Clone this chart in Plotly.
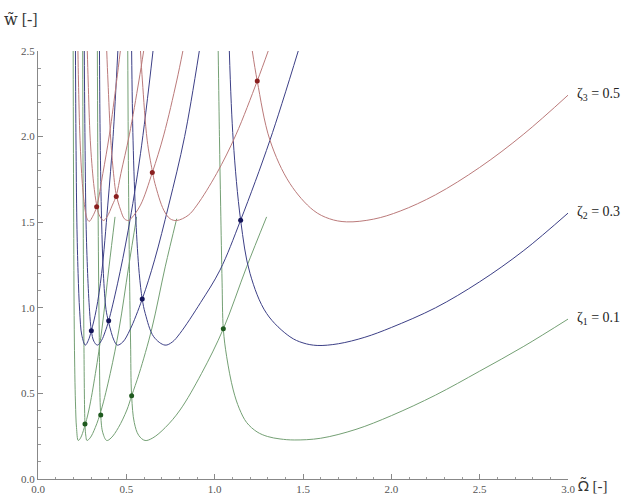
import plotly.graph_objects as go

# ---------------- data ----------------
# zeta_1 = 0.1 (green) : five resonance curves
G1_X = [1.020, 1.027, 1.034, 1.042, 1.049, 1.068, 1.105, 1.14, 1.181, 1.24, 1.30, 1.37, 1.45, 1.6, 1.8, 2.0, 2.25, 2.5, 2.75, 3.0]
G1_Y = [2.5, 2.0, 1.59, 1.15, 0.877, 0.714, 0.52, 0.41, 0.33, 0.275, 0.248, 0.234, 0.228, 0.238, 0.29, 0.37, 0.49, 0.63, 0.775, 0.934]
G2_X = [0.508, 0.512, 0.518, 0.524, 0.530, 0.545, 0.57, 0.606, 0.65, 0.72, 0.804, 0.926, 1.049, 1.181, 1.294]
G2_Y = [2.5, 1.8, 1.2, 0.8, 0.486, 0.33, 0.255, 0.225, 0.24, 0.3, 0.403, 0.617, 0.877, 1.239, 1.531]
G3_X = [0.336, 0.340, 0.346, 0.355, 0.367, 0.389, 0.414, 0.455, 0.503, 0.530, 0.573, 0.644, 0.72, 0.785]
G3_Y = [2.5, 1.6, 0.9, 0.374, 0.27, 0.225, 0.24, 0.3, 0.403, 0.486, 0.617, 0.877, 1.239, 1.52]
G4_X = [0.253, 0.256, 0.260, 0.266, 0.271, 0.277, 0.295, 0.324, 0.358, 0.409, 0.459, 0.513, 0.558]
G4_Y = [2.5, 1.5, 0.8, 0.321, 0.25, 0.225, 0.24, 0.3, 0.403, 0.617, 0.877, 1.239, 1.531]
G5_X = [0.199, 0.202, 0.206, 0.212, 0.218, 0.228, 0.241, 0.262, 0.288, 0.325, 0.362, 0.402, 0.436]
G5_Y = [2.5, 1.5, 0.8, 0.45, 0.3, 0.225, 0.24, 0.3, 0.403, 0.617, 0.877, 1.239, 1.531]

# zeta_2 = 0.3 (blue)
B1_X = [1.083, 1.105, 1.147, 1.2, 1.294, 1.426, 1.50, 1.58, 1.7, 1.85, 2.0, 2.25, 2.5, 2.75, 3.0]
B1_Y = [2.5, 1.979, 1.512, 1.201, 0.967, 0.831, 0.795, 0.78, 0.79, 0.828, 0.885, 1.0, 1.152, 1.335, 1.553]
B2_X = [0.530, 0.538, 0.554, 0.573, 0.590, 0.607, 0.655, 0.719, 0.76, 0.804, 0.92, 1.03, 1.147, 1.313, 1.473]
B2_Y = [2.5, 1.979, 1.512, 1.201, 1.051, 0.967, 0.831, 0.782, 0.80, 0.851, 1.03, 1.22, 1.512, 1.979, 2.5]
B3_X = [0.348, 0.352, 0.36, 0.37, 0.385, 0.398, 0.415, 0.43, 0.449, 0.48, 0.52, 0.59, 0.66, 0.74, 0.83, 0.913]
B3_Y = [2.5, 1.979, 1.512, 1.201, 0.99, 0.924, 0.855, 0.81, 0.782, 0.80, 0.87, 1.051, 1.28, 1.6, 2.0, 2.5]
B4_X = [0.262, 0.266, 0.272, 0.281, 0.292, 0.302, 0.316, 0.336, 0.36, 0.38, 0.4, 0.45, 0.51, 0.58, 0.651]
B4_Y = [2.5, 1.98, 1.5, 1.2, 0.98, 0.866, 0.805, 0.782, 0.81, 0.86, 0.924, 1.14, 1.45, 1.9, 2.5]
B5_X = [0.212, 0.215, 0.22, 0.227, 0.236, 0.248, 0.268, 0.285, 0.302, 0.33, 0.36, 0.395, 0.425, 0.452]
B5_Y = [2.5, 1.98, 1.5, 1.2, 0.98, 0.84, 0.782, 0.81, 0.866, 0.99, 1.2, 1.6, 2.0, 2.5]

# zeta_3 = 0.5 (red)
R1_X = [1.213, 1.241, 1.313, 1.426, 1.558, 1.65, 1.747, 1.9, 2.05, 2.25, 2.5, 2.75, 3.0]
R1_Y = [2.5, 2.325, 1.979, 1.726, 1.570, 1.52, 1.502, 1.518, 1.565, 1.66, 1.82, 2.015, 2.242]
R2_X = [0.58, 0.591, 0.618, 0.647, 0.662, 0.712, 0.748, 0.785, 0.85, 0.9, 1.011, 1.12, 1.241, 1.303]
R2_Y = [2.5, 2.325, 1.979, 1.80, 1.726, 1.57, 1.52, 1.51, 1.54, 1.60, 1.784, 2.01, 2.325, 2.5]
R3_X = [0.389, 0.396, 0.412, 0.430, 0.443, 0.468, 0.489, 0.511, 0.53, 0.58, 0.647, 0.712, 0.785, 0.82]
R3_Y = [2.5, 2.325, 1.979, 1.76, 1.66, 1.57, 1.52, 1.51, 1.525, 1.60, 1.79, 2.01, 2.325, 2.5]
R4_X = [0.279, 0.284, 0.296, 0.315, 0.332, 0.345, 0.37, 0.39, 0.421, 0.443, 0.469, 0.517, 0.571, 0.598]
R4_Y = [2.5, 2.325, 1.979, 1.726, 1.60, 1.545, 1.51, 1.53, 1.60, 1.655, 1.784, 2.01, 2.325, 2.5]
R5_X = [0.226, 0.229, 0.238, 0.251, 0.267, 0.278, 0.29, 0.31, 0.332, 0.367, 0.404, 0.445, 0.466]
R5_Y = [2.5, 2.325, 1.979, 1.726, 1.57, 1.52, 1.505, 1.535, 1.59, 1.784, 2.01, 2.325, 2.5]

# intersection points (dots)
GREEN_DOT_X = [0.266, 0.355, 0.530, 1.049]
GREEN_DOT_Y = [0.321, 0.374, 0.486, 0.877]
BLUE_DOT_X = [0.302, 0.400, 0.590, 1.147]
BLUE_DOT_Y = [0.866, 0.924, 1.051, 1.512]
RED_DOT_X = [0.332, 0.443, 0.647, 1.241]
RED_DOT_Y = [1.590, 1.650, 1.790, 2.325]

X_TICKS = [0.0, 0.5, 1.0, 1.5, 2.0, 2.5, 3.0]
Y_TICKS = [0.0, 0.5, 1.0, 1.5, 2.0, 2.5]
LABELS = ["ζ<sub>1</sub> = 0.1", "ζ<sub>2</sub> = 0.3", "ζ<sub>3</sub> = 0.5"]

# ---------------- figure ----------------
GREEN_LINE = "#74a074"
BLUE_LINE = "#3c3f86"
RED_LINE = "#bb7a7a"
GREEN_DOT = "#1f5a1f"
BLUE_DOT = "#15155a"
RED_DOT = "#8a1f1f"

fig = go.Figure()

groups = [
    (GREEN_LINE, [(G1_X, G1_Y), (G2_X, G2_Y), (G3_X, G3_Y), (G4_X, G4_Y), (G5_X, G5_Y)]),
    (BLUE_LINE, [(B1_X, B1_Y), (B2_X, B2_Y), (B3_X, B3_Y), (B4_X, B4_Y), (B5_X, B5_Y)]),
    (RED_LINE, [(R1_X, R1_Y), (R2_X, R2_Y), (R3_X, R3_Y), (R4_X, R4_Y), (R5_X, R5_Y)]),
]
for color, curves in groups:
    for xs, ys in curves:
        fig.add_trace(go.Scatter(
            x=xs, y=ys, mode="lines",
            line=dict(color=color, width=1, shape="spline", smoothing=1.0),
            hoverinfo="skip", showlegend=False))

for color, xs, ys in [(GREEN_DOT, GREEN_DOT_X, GREEN_DOT_Y),
                      (BLUE_DOT, BLUE_DOT_X, BLUE_DOT_Y),
                      (RED_DOT, RED_DOT_X, RED_DOT_Y)]:
    fig.add_trace(go.Scatter(
        x=xs, y=ys, mode="markers",
        marker=dict(color=color, size=5),
        showlegend=False, cliponaxis=False))

serif = "Liberation Serif, Times New Roman, serif"

# curve labels at the right ends of the main curves
for text, ys in zip(LABELS, [G1_Y, B1_Y, R1_Y]):
    fig.add_annotation(x=1, y=ys[-1], xref="paper", yref="y", text=text,
                       showarrow=False, xanchor="left", yanchor="middle",
                       xshift=7, yshift=1, font=dict(family=serif, size=14, color="#222"))

# axis titles
fig.add_annotation(x=0, y=1, xref="paper", yref="paper",
                   text="<span style='font-family:DejaVu Serif'>w\u0303</span> [-]",
                   showarrow=False, xanchor="right", yanchor="middle",
                   xshift=2, yshift=32, font=dict(family=serif, size=16, color="#333"))
fig.add_annotation(x=1, y=0, xref="paper", yref="paper",
                   text="<span style='font-family:Noto Sans'>Ω\u0303</span> [-]",
                   showarrow=False, xanchor="left", yanchor="middle",
                   xshift=8, yshift=-6, font=dict(family=serif, size=15, color="#333"))

axis_common = dict(
    showgrid=False, zeroline=False, showline=True, linecolor="#888", linewidth=1,
    ticks="inside", ticklen=5, tickcolor="#888", tickwidth=1,
    tickfont=dict(family=serif, size=11, color="#555"), tickformat=".1f",
    minor=dict(ticks="inside", ticklen=2.5, tickcolor="#999", dtick=0.1),
    automargin=False,
)
fig.update_xaxes(range=[0, 3.0], tickvals=X_TICKS, **axis_common)
fig.update_yaxes(range=[0, 2.5], tickvals=Y_TICKS, **axis_common)

fig.update_layout(
    width=630, height=497,
    margin=dict(l=38, r=62, t=51, b=18, autoexpand=False),
    paper_bgcolor="white", plot_bgcolor="white",
    showlegend=False,
)

fig.write_html("out.html",
               config={"displayModeBar": False},
               post_script="document.body.style.margin='0px';document.body.style.overflow='hidden';")
